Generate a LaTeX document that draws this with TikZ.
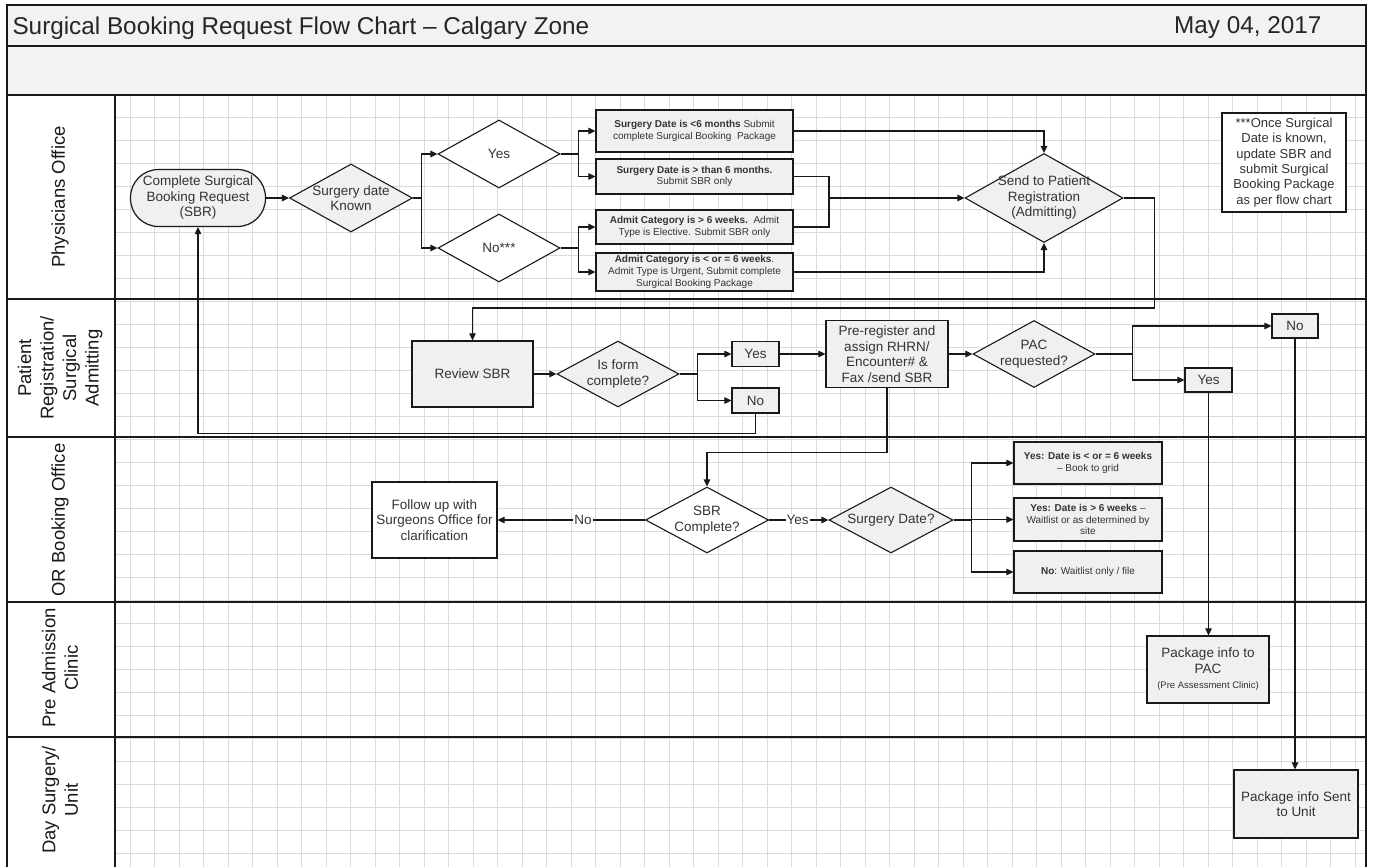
\documentclass[tikz,border=0pt]{standalone}
\usepackage{fontspec}
\setmainfont{Liberation Sans}
\usepackage{tikz}
\usetikzlibrary{shapes.geometric,arrows.meta,positioning,calc}

\tikzset{
  gridline/.style={draw=black!14, line width=0.7pt},
  outline/.style={draw=black!90, line width=1.2pt},
  flow/.style={draw=black!90, line width=1.1pt},
  arr/.style={flow, -{Triangle[length=7pt,width=6.5pt]}},
  txt/.style={text=black!80, align=center, font=\fontsize{13.5}{15.5}\selectfont},
  smalltxt/.style={text=black!80, align=center, font=\fontsize{10}{11.6}\selectfont},
  box/.style={rectangle, draw=black!90, line width=1.2pt, fill=black!6, inner sep=1pt},
  plainbox/.style={box, fill=white},
  dia/.style={diamond, draw=black!90, line width=1.1pt, fill=black!6, inner sep=0pt},
  plaindia/.style={dia, fill=white},
  lanelbl/.style={rotate=90, align=center, text=black!90, font=\fontsize{18.5}{22.5}\selectfont},
  online/.style={fill=white, inner sep=1pt, text=black!80, font=\fontsize{13.5}{15}\selectfont}
}

\begin{document}
\begin{tikzpicture}[x=1pt, y=-1pt]
      \useasboundingbox (0,0) rectangle (1374,867);

      \fill[black!5] (7,5) rectangle (1366,95);
      \foreach \i in {0,...,50}
        \draw[gridline] ({130+24.5*\i},95) -- ++(0,772);
      \foreach \j in {0,...,32}
        \draw[gridline] (115,{117+23*\j}) -- (1366,{117+23*\j});
      \foreach \y in {46,95,299,437,602,737}
        \draw[outline] (7,\y) -- (1366,\y);
      \draw[outline] (115,95) -- (115,867);
      \draw[outline] (7,867) -- (7,5) -- (1366,5) -- (1366,867);

      \node[anchor=west, text=black!85, font=\fontsize{24.3}{27}\selectfont] (title) at (9,28)
      {Surgical Booking Request Flow Chart – Calgary Zone};
      \node[anchor=east, text=black!85, font=\fontsize{24.3}{27}\selectfont] (date) at (1325,28)
      {May 04, 2017};

      \node[lanelbl] (lphys) at (60,197) {Physicians Office};
      \node[lanelbl] (lreg) at (60,368) {Patient\\Registration/\\Surgical\\Admitting};
      \node[lanelbl] (lor) at (60,520) {OR Booking Office};
      \node[lanelbl] (lpac) at (60,668) {Pre Admission\\Clinic};
      \node[lanelbl] (lday) at (60,800) {Day Surgery/\\Unit};

      \node[box, txt, rounded corners=28pt, minimum width=135pt, minimum height=57pt] (start) at (198,198)
      {Complete Surgical\\Booking Request\\(SBR)};
      \node[dia, minimum width=123pt, minimum height=68pt,
      label={[txt]center:Surgery date\\Known}] (sdk) at (351,198) {};
      \node[plaindia, minimum width=122pt, minimum height=68pt,
      label={[txt]center:Yes}] (yes) at (499,154) {};
      \node[plaindia, minimum width=122pt, minimum height=68pt,
      label={[txt]center:No***}] (no) at (499,248) {};

      \node[box, smalltxt, minimum width=197pt, minimum height=42pt] (b1) at (694.5,131)
      {\textbf{Surgery Date is <6 months} Submit\\complete Surgical Booking\ \ Package};
      \node[box, smalltxt, minimum width=197pt, minimum height=35pt] (b2) at (694.5,176.5)
      {\textbf{Surgery Date is > than 6 months.}\\Submit SBR only};
      \node[box, smalltxt, minimum width=197pt, minimum height=34pt] (b3) at (694.5,227)
      {\textbf{Admit Category is > 6 weeks.}\ \ Admit\\Type is Elective. Submit SBR only};
      \node[box, smalltxt, minimum width=197pt, minimum height=38pt] (b4) at (694.5,272)
      {\textbf{Admit Category is < or = 6 weeks}.\\Admit Type is Urgent, Submit complete\\Surgical Booking Package};

      \node[dia, minimum width=158pt, minimum height=89pt,
      label={[txt]center:Send to Patient\\Registration\\(Admitting)}] (send) at (1044,198) {};
      \node[plainbox, txt, font=\fontsize{13}{15.3}\selectfont, minimum width=124pt, minimum height=99pt] (note)
      at (1284,162.5) {***Once Surgical\\Date is known,\\update SBR and\\submit Surgical\\Booking Package\\as per flow chart};

      \node[box, txt, minimum width=121pt, minimum height=66pt] (review) at (472.5,374) {Review SBR};
      \node[dia, minimum width=122pt, minimum height=66pt,
      label={[txt]center:Is form\\complete?}] (form) at (618,374) {};
      \node[box, txt, minimum width=47pt, minimum height=25pt] (fyes) at (755.5,354) {Yes};
      \node[box, txt, minimum width=47pt, minimum height=25pt] (fno) at (755.5,400.5) {No};
      \node[box, txt, minimum width=122pt, minimum height=67pt] (prereg) at (887,354)
      {Pre-register and\\assign RHRN/\\Encounter\# \&\\Fax /send SBR};
      \node[dia, minimum width=122pt, minimum height=67pt,
      label={[txt]center:PAC\\requested?}] (pac) at (1034,354) {};
      \node[box, txt, minimum width=46pt, minimum height=24pt] (pno) at (1295,326) {No};
      \node[box, txt, minimum width=47pt, minimum height=24pt] (pyes) at (1208.5,380) {Yes};

      \node[plainbox, txt, minimum width=125pt, minimum height=76pt] (follow) at (434.5,520)
      {Follow up with\\Surgeons Office for\\clarification};
      \node[plaindia, minimum width=123pt, minimum height=66pt,
      label={[txt]center:SBR\\Complete?}] (sbrc) at (707,520) {};
      \node[dia, minimum width=124pt, minimum height=66pt,
      label={[txt]center:Surgery Date?}] (sdate) at (891,520) {};
      \node[box, smalltxt, minimum width=148pt, minimum height=42pt] (ra) at (1088,463)
      {\textbf{Yes: Date is < or = 6 weeks}\\– Book to grid};
      \node[box, smalltxt, minimum width=148pt, minimum height=43pt] (rb) at (1088,519.5)
      {\textbf{Yes: Date is > 6 weeks} –\\Waitlist or as determined by\\site};
      \node[box, smalltxt, minimum width=148pt, minimum height=42pt] (rc) at (1088,572)
      {\textbf{No}: Waitlist only / file};

      \node[box, txt, minimum width=122pt, minimum height=67pt] (pacpkg) at (1208,669.5)
      {Package info to\\PAC\\{\fontsize{9.5}{11}\selectfont(Pre Assessment Clinic)}};
      \node[box, txt, minimum width=124pt, minimum height=68pt] (unit) at (1296,804)
      {Package info Sent\\to Unit};

      \coordinate (mrg) at (829,198);

      \draw[arr] (start.east) -- (sdk.west);
      \draw[arr] (sdk.east) -- ++(8,0) |- (yes.west);
      \draw[arr] (sdk.east) -- ++(8,0) |- (no.west);
      \draw[arr] (yes.east) -- ++(18,0) |- (b1.west);
      \draw[arr] (yes.east) -- ++(18,0) |- (b2.west);
      \draw[arr] (no.east) -- ++(18,0) |- (b3.west);
      \draw[arr] (no.east) -- ++(18,0) |- (b4.west);
      \draw[arr] (b1.east) -| (send.north);
      \draw[flow] (b2.east) -| (mrg);
      \draw[flow] (b3.east) -| (mrg);
      \draw[arr] (mrg) -- (send.west);
      \draw[arr] (b4.east) -| (send.south);
      \draw[arr] (send.east) -- ++(31,0) -- ++(0,110) -| (review.north);

      \draw[arr] (review.east) -- (form.west);
      \draw[arr] (form.east) -- ++(18,0) |- (fyes.west);
      \draw[arr] (form.east) -- ++(18,0) |- (fno.west);
      \draw[arr] (fno.south) -- ++(0,20) -| (start.south);
      \draw[arr] (fyes.east) -- (prereg.west);
      \draw[arr] (prereg.east) -- (pac.west);
      \draw[arr] (pac.east) -- ++(37,0) |- (pno.west);
      \draw[arr] (pac.east) -- ++(37,0) |- (pyes.west);
      \draw[arr] (prereg.south) -- ++(0,64) -| (sbrc.north);

      \draw[arr] (sbrc.west) -- node[online, pos=0.42] (lno) {No} (follow.east);
      \draw[arr] (sbrc.east) -- node[online, pos=0.48] (lyes) {Yes} (sdate.west);
      \draw[arr] (sdate.east) -- ++(18,0) |- (ra.west);
      \draw[arr] (sdate.east) -- ++(18,0) |- (rb.west);
      \draw[arr] (sdate.east) -- ++(18,0) |- (rc.west);

      \draw[arr] (pyes.south) -- (pyes.south |- pacpkg.north);
      \draw[arr] (pno.south) -- (pno.south |- unit.north);
\end{tikzpicture}
\end{document}
